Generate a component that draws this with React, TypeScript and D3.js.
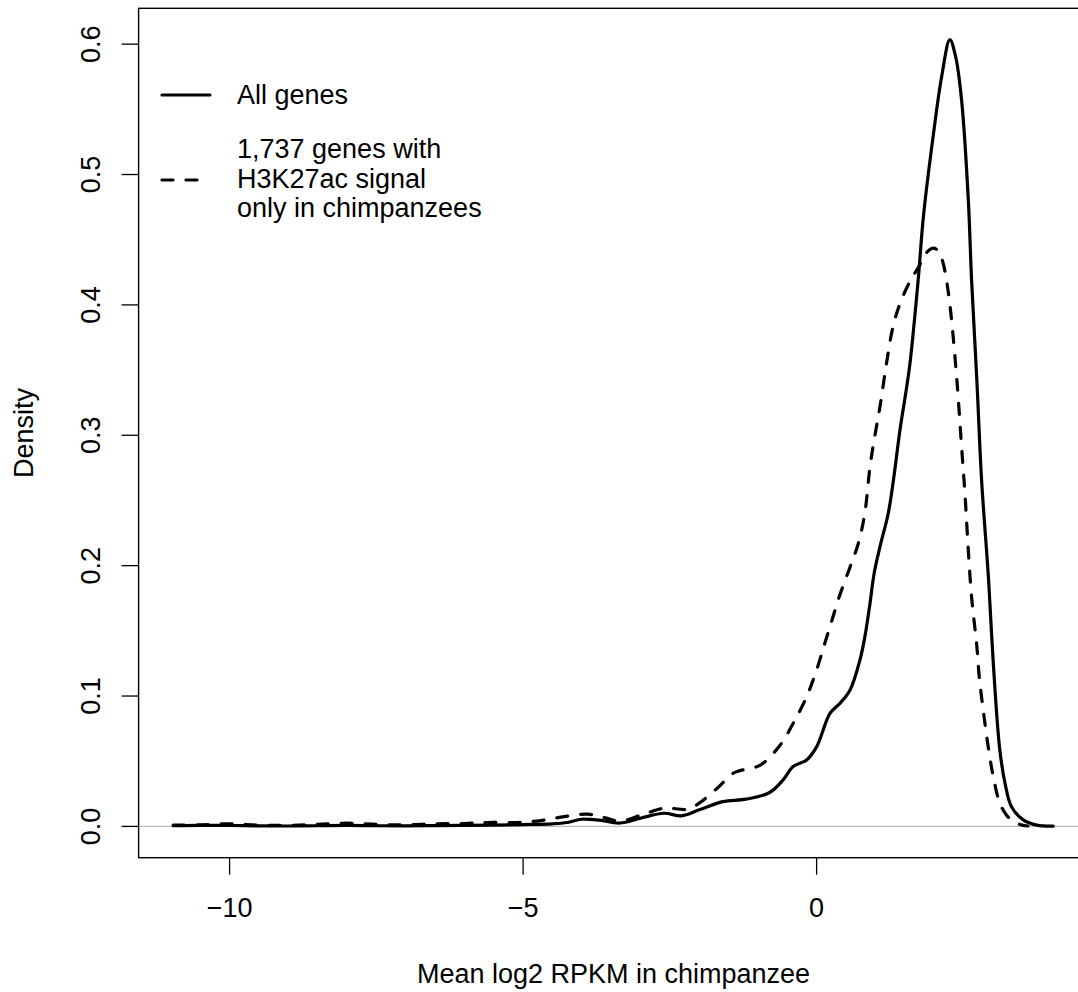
import React from "react";
import * as d3 from "d3";

// ---- Data ----
const allGenes: [number, number][] = [
  [-10.96, 0.0005], [-10.5, 0.0008], [-10, 0.0007], [-9.5, 0.0004], [-9, 0.0003],
  [-8.5, 0.0005], [-8, 0.0008], [-7.5, 0.0005], [-7, 0.0004], [-6.5, 0.0006],
  [-6, 0.0008], [-5.5, 0.001], [-5, 0.0014], [-4.5, 0.002], [-4.25, 0.003],
  [-4.0, 0.0055], [-3.7, 0.0048], [-3.35, 0.0026], [-3.0, 0.0063], [-2.6, 0.0101],
  [-2.3, 0.0081], [-2.0, 0.0127], [-1.6, 0.019], [-1.2, 0.0209], [-0.8, 0.026],
  [-0.57, 0.0357], [-0.4, 0.0459], [-0.17, 0.051], [0.0, 0.061], [0.23, 0.0868],
  [0.4, 0.0945], [0.57, 0.1047], [0.74, 0.128], [0.82, 0.145], [0.9, 0.168],
  [0.98, 0.194], [1.08, 0.2146], [1.22, 0.24], [1.31, 0.266], [1.42, 0.304],
  [1.51, 0.33], [1.59, 0.355], [1.73, 0.419], [1.82, 0.468], [1.99, 0.531],
  [2.13, 0.575], [2.27, 0.6035], [2.37, 0.59], [2.47, 0.557], [2.585, 0.48],
  [2.64, 0.419], [2.73, 0.342], [2.81, 0.266], [2.93, 0.189], [3.01, 0.125],
  [3.12, 0.059], [3.21, 0.033], [3.32, 0.015], [3.52, 0.005], [3.75, 0.001],
  [4.03, 0.0002],
];

const chimpOnly: [number, number][] = [
  [-10.96, 0.001], [-10.5, 0.0012], [-10, 0.002], [-9.5, 0.001], [-9, 0.0008],
  [-8.5, 0.0015], [-8, 0.0025], [-7.5, 0.0015], [-7, 0.0012], [-6.5, 0.002],
  [-6, 0.0022], [-5.6, 0.003], [-5.1, 0.003], [-4.7, 0.0045], [-4.3, 0.0075],
  [-3.9, 0.0094], [-3.6, 0.0065], [-3.35, 0.004], [-2.95, 0.0093], [-2.6, 0.014],
  [-2.2, 0.0132], [-2.0, 0.0178], [-1.7, 0.029], [-1.42, 0.0408], [-1.3, 0.0428],
  [-0.96, 0.047], [-0.62, 0.0625], [-0.4, 0.079], [-0.17, 0.0995], [0.0, 0.12],
  [0.14, 0.1405], [0.26, 0.158], [0.4, 0.178], [0.57, 0.199], [0.71, 0.217],
  [0.82, 0.24], [0.91, 0.276], [0.99, 0.299], [1.08, 0.322], [1.19, 0.355],
  [1.3, 0.383], [1.42, 0.401], [1.59, 0.418], [1.75, 0.43], [1.87, 0.44],
  [1.99, 0.4435], [2.08, 0.441], [2.15, 0.433], [2.23, 0.414], [2.3, 0.388],
  [2.39, 0.342], [2.47, 0.291], [2.53, 0.253], [2.58, 0.215], [2.64, 0.176],
  [2.73, 0.138], [2.77, 0.115], [2.85, 0.085], [2.93, 0.059], [3.01, 0.038],
  [3.12, 0.018], [3.23, 0.009], [3.35, 0.004], [3.5, 0.001], [3.6, 0.0003],
];

const xTicks = [-10, -5, 0];
const yTicks = [0, 0.1, 0.2, 0.3, 0.4, 0.5, 0.6];
const xLabel = "Mean log2 RPKM in chimpanzee";
const yLabel = "Density";
const legendSolid = ["All genes"];
const legendDashed = ["1,737 genes with", "H3K27ac signal", "only in chimpanzees"];

const W = 1078;
const H = 992;
const FONT = "'Liberation Sans', Arial, Helvetica, sans-serif";
const FS = 27;

export default function App() {
  const x = d3.scaleLinear().domain([-11.55, 4.63]).range([138.6, 1088.4]);
  const y = d3.scaleLinear().domain([-0.024, 0.6275]).range([857.7, 8.3]);
  const line = d3
    .line<[number, number]>()
    .x((d) => x(d[0]))
    .y((d) => y(d[1]))
    .curve(d3.curveCatmullRom.alpha(0.5));

  const [x0, x1] = x.range();
  const [yb, yt] = y.range();
  const fmt = (v: number) => (v < 0 ? "\u2212" + Math.abs(v) : String(v));

  return (
    <svg
      width={W}
      height={H}
      style={{ position: "fixed", left: 0, top: 0, background: "#fff" }}
      fontFamily={FONT}
    >
      <rect x={0} y={0} width={W} height={H} fill="#fff" />
      {/* zero reference line */}
      <line x1={x0} x2={x1} y1={y(0)} y2={y(0)} stroke="#bebebe" strokeWidth={1.3} />
      {/* curves */}
      <path d={line(allGenes) || ""} fill="none" stroke="#000" strokeWidth={3.2} strokeLinejoin="round" strokeLinecap="round" />
      <path d={line(chimpOnly) || ""} fill="none" stroke="#000" strokeWidth={3.2} strokeDasharray="11 13" strokeLinejoin="round" strokeLinecap="round" />
      {/* box */}
      <rect x={x0} y={yt} width={x1 - x0} height={yb - yt} fill="none" stroke="#000" strokeWidth={1.4} />
      {/* x axis */}
      {xTicks.map((t) => (
        <g key={"xt" + t}>
          <line x1={x(t)} x2={x(t)} y1={yb} y2={yb + 17} stroke="#000" strokeWidth={1.3} />
          <text x={x(t)} y={917} textAnchor="middle" fontSize={FS} fill="#000">
            {fmt(t)}
          </text>
        </g>
      ))}
      <text x={(x0 + x1) / 2} y={983} textAnchor="middle" fontSize={FS} fill="#000">
        {xLabel}
      </text>
      {/* y axis */}
      {yTicks.map((t) => (
        <g key={"yt" + t}>
          <line x1={x0 - 17} x2={x0} y1={y(t)} y2={y(t)} stroke="#000" strokeWidth={1.3} />
          <text
            transform={`translate(100,${y(t)}) rotate(-90)`}
            textAnchor="middle"
            fontSize={FS}
            fill="#000"
          >
            {t.toFixed(1)}
          </text>
        </g>
      ))}
      <text
        transform={`translate(33,${(yb + yt) / 2}) rotate(-90)`}
        textAnchor="middle"
        fontSize={FS}
        fill="#000"
      >
        {yLabel}
      </text>
      {/* legend */}
      <line x1={162} x2={210} y1={95} y2={95} stroke="#000" strokeWidth={3.2} strokeLinecap="round" />
      {legendSolid.map((s, i) => (
        <text key={"ls" + i} x={237} y={104 + i * 29.2} fontSize={FS} fill="#000">
          {s}
        </text>
      ))}
      <line x1={162} x2={210} y1={180} y2={180} stroke="#000" strokeWidth={3.2} strokeDasharray="11 13" strokeLinecap="round" />
      {legendDashed.map((s, i) => (
        <text key={"ld" + i} x={237} y={158.3 + i * 29.2} fontSize={FS} fill="#000">
          {s}
        </text>
      ))}
    </svg>
  );
}
